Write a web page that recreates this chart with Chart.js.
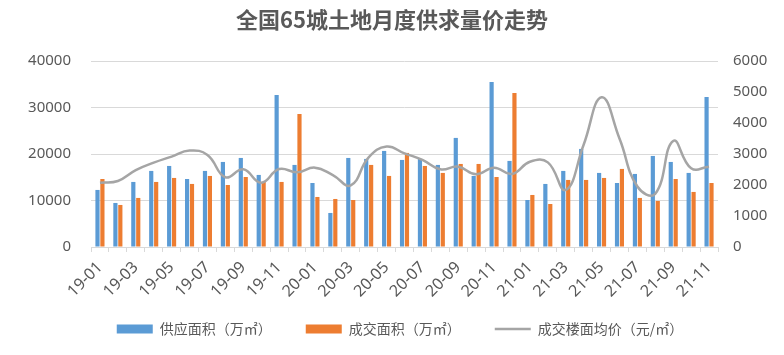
<!DOCTYPE html>
<html>
<head>
<meta charset="utf-8">
<script src="https://cdn.jsdelivr.net/npm/chart.js@4/dist/chart.umd.min.js"></script>
<style>
  html, body { margin: 0; padding: 0; background: #ffffff; }
  #wrap { width: 784px; height: 355px; }
</style>
</head>
<body>
<div id="wrap"><canvas id="c" width="784" height="355"></canvas></div>
<script>
const months = [
  '19-01','19-02','19-03','19-04','19-05','19-06','19-07','19-08','19-09','19-10','19-11','19-12',
  '20-01','20-02','20-03','20-04','20-05','20-06','20-07','20-08','20-09','20-10','20-11','20-12',
  '21-01','21-02','21-03','21-04','21-05','21-06','21-07','21-08','21-09','21-10','21-11'
];
const supplyArea = [
  12270, 9470, 13990, 16360, 17430, 14630, 16360, 18290, 19150, 15500, 32710, 17650,
  13770, 7320, 19150, 18940, 20660, 18720, 18940, 17650, 23460, 15280, 35510, 18510,
  10110, 13560, 16360, 21090, 15930, 13770, 15710, 19580, 18290, 15930, 32280
];
const dealArea = [
  14630, 9040, 10550, 13990, 14850, 13560, 15280, 13340, 15060, 14000, 13990, 28620,
  10760, 10330, 10110, 17650, 15280, 20230, 17430, 15930, 17860, 17860, 15060, 33140,
  11190, 9250, 14420, 14420, 14850, 16790, 10550, 9900, 14630, 11840, 13770
];
const avgPrice = [
  2075, 2130, 2480, 2720, 2915, 3110, 2970, 2250, 2505, 2075, 2515, 2410,
  2560, 2320, 1990, 2890, 3240, 3020, 2810, 2505, 2590, 2345, 2560, 2355,
  2750, 2730, 1840, 3300, 4830, 3500, 1950, 1720, 3420, 2540, 2590
];
const leftTicks = [0, 10000, 20000, 30000, 40000];
const rightTicks = [0, 1000, 2000, 3000, 4000, 5000, 6000];
const seriesNames = ['供应面积（万㎡）', '成交面积（万㎡）', '成交楼面均价（元/㎡）'];
const titleText = '全国65城土地月度供求量价走势';

const txt = '#595959';
const gridC = '#D9D9D9';

// Legend: reserve a thin strip in layout, then place it where the reference has it.
const legendPlace = {
  id: 'legendPlace',
  beforeLayout(chart) {
    const lg = chart.legend;
    if (lg && !lg._patched) {
      const orig = lg.fit;
      lg.fit = function () { orig.call(this); this.height = 20; };
      lg._patched = true;
    }
  },
  afterLayout(chart) {
    const lg = chart.legend;
    if (lg) {
      lg.left += 8; lg.right += 8;
      lg.top = 288; lg.bottom = 346;
    }
  }
};

new Chart(document.getElementById('c'), {
  data: {
    labels: months,
    datasets: [
      { type: 'bar', label: seriesNames[0], data: supplyArea, backgroundColor: '#5B9BD5',
        borderWidth: 0, yAxisID: 'y', order: 1, pointStyle: 'rect',
        categoryPercentage: 0.55, barPercentage: 0.85 },
      { type: 'bar', label: seriesNames[1], data: dealArea, backgroundColor: '#ED7D31',
        borderWidth: 0, yAxisID: 'y', order: 1, pointStyle: 'rect',
        categoryPercentage: 0.55, barPercentage: 0.85 },
      { type: 'line', label: seriesNames[2], data: avgPrice, borderColor: '#A5A5A5',
        backgroundColor: '#A5A5A5', borderWidth: 2.5, pointRadius: 0, tension: 0.45,
        yAxisID: 'y1', order: 0, pointStyle: 'line', fill: false }
    ]
  },
  plugins: [legendPlace],
  options: {
    responsive: false,
    animation: false,
    devicePixelRatio: 1,
    layout: { padding: { left: 0, right: 0, top: 0, bottom: 0 } },
    plugins: {
      title: {
        display: true, text: titleText, color: txt,
        font: { family: '"Noto Sans CJK SC", "Noto Sans", sans-serif', size: 22, weight: 'bold' },
        padding: { top: 6, bottom: 28.6 }
      },
      legend: {
        position: 'bottom',
        labels: {
          usePointStyle: true, pointStyleWidth: 36, boxHeight: 9, padding: 34,
          color: txt,
          font: { family: '"Noto Sans CJK SC", sans-serif', size: 14 },
          sort: (a, b) => a.datasetIndex - b.datasetIndex
        }
      },
      tooltip: { enabled: false }
    },
    scales: {
      x: {
        type: 'category',
        offset: true,
        grid: { display: true, drawOnChartArea: false, drawTicks: true, tickLength: 5, color: gridC, offset: true },
        border: { display: true, color: gridC },
        ticks: {
          autoSkip: false, minRotation: 45, maxRotation: 45, padding: 6, color: txt,
          font: { family: '"Noto Sans", sans-serif', size: 16 },
          callback: (v, i) => (i % 2 === 0 ? months[i] : '')
        },
        afterFit: s => { s.height = 88; }
      },
      y: {
        position: 'left', min: leftTicks[0], max: leftTicks[leftTicks.length - 1],
        afterBuildTicks: s => { s.ticks = leftTicks.map(v => ({ value: v })); },
        grid: { color: gridC, drawTicks: false },
        border: { display: false },
        ticks: { padding: 20, color: txt, font: { family: '"Noto Sans", sans-serif', size: 15 },
                 callback: v => String(v) },
        afterFit: s => { s.width = 91; }
      },
      y1: {
        position: 'right', min: rightTicks[0], max: rightTicks[rightTicks.length - 1],
        afterBuildTicks: s => { s.ticks = rightTicks.map(v => ({ value: v })); },
        grid: { drawOnChartArea: false, drawTicks: false },
        border: { display: false },
        ticks: { padding: 15, color: txt, font: { family: '"Noto Sans", sans-serif', size: 15 },
                 callback: v => String(v) },
        afterFit: s => { s.width = 66; }
      }
    }
  }
});
</script>
</body>
</html>
